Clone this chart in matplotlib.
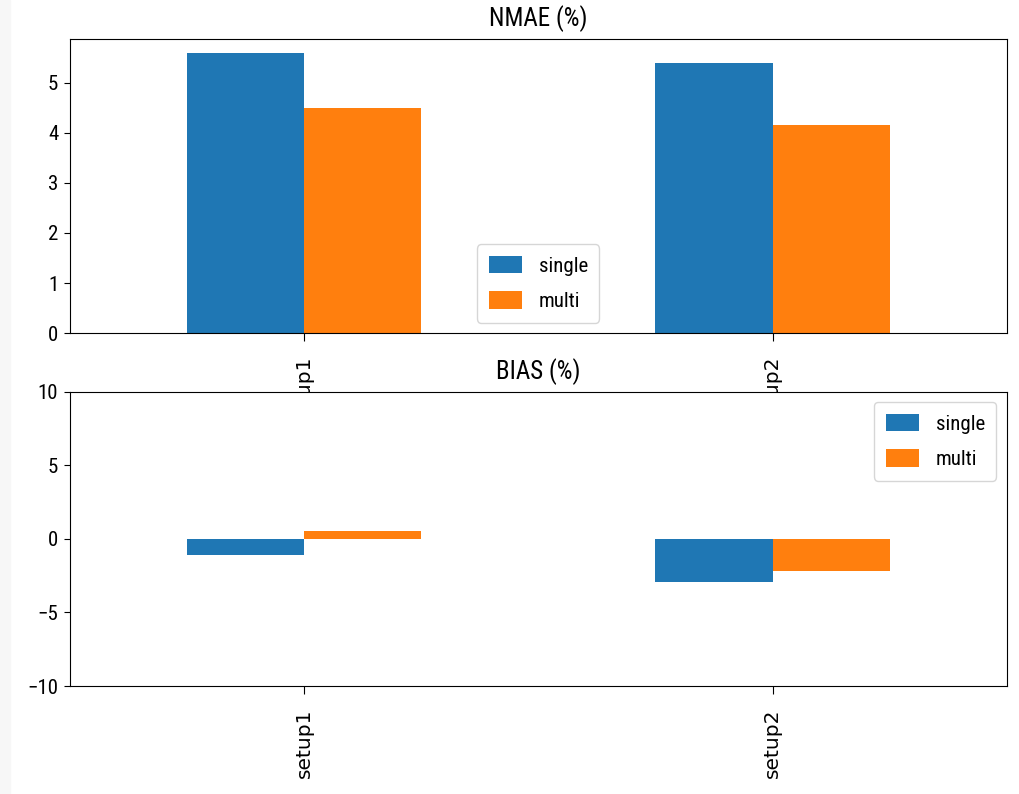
import numpy as np
import matplotlib
matplotlib.use("Agg")
import matplotlib.pyplot as plt
from matplotlib import font_manager
from matplotlib.patches import Rectangle

# data
setups = ["setup1", "setup2"]
series = ["single", "multi"]
nmae_single = [5.60, 5.39]
nmae_multi = [4.49, 4.16]
bias_single = [-1.1, -2.95]
bias_multi = [0.55, -2.15]
colors = ["#1f77b4", "#ff7f0e"]

# the reference is squeezed sideways: use a condensed face if there is one
installed = {f.name for f in font_manager.fontManager.ttflist}
narrow = [n for n in ["DejaVu Sans Condensed", "Liberation Sans Narrow",
                      "Roboto Condensed", "Open Sans Condensed"] if n in installed]
if narrow:
    plt.rcParams["font.family"] = [narrow[0], "DejaVu Sans"]
    tick_fs, title_fs = 15, 18
else:
    plt.rcParams["font.family"] = ["DejaVu Sans"]
    tick_fs, title_fs = 13, 15

fig, axes = plt.subplots(2, 1, figsize=(10.19, 7.94), dpi=100)
fig.subplots_adjust(left=0.0687, right=0.988, top=0.951, bottom=0.136, hspace=0.2)

# light grey strip at the very left of the screenshot
fig.patches.append(Rectangle((0, 0), 0.010, 1, transform=fig.transFigure,
                             color="#f7f7f7", zorder=-10))

x = np.arange(len(setups))
width = 0.25

panels = [
    (axes[0], [nmae_single, nmae_multi], "NMAE (%)", "lower center", None),
    (axes[1], [bias_single, bias_multi], "BIAS (%)", "upper right", (-10, 10)),
]

for ax, vals, title, loc, ylim in panels:
    for i, (name, v) in enumerate(zip(series, vals)):
        ax.bar(x + (i - 0.5) * width, v, width, color=colors[i], label=name)
    ax.set_xlim(-0.5, 1.5)
    if ylim is not None:
        ax.set_ylim(*ylim)
    ax.set_xticks(x)
    ax.set_xticklabels(setups, rotation=90, fontsize=14.5, family="DejaVu Sans")
    ax.tick_params(axis="x", length=6, pad=10)
    ax.tick_params(axis="y", labelsize=tick_fs, length=4.5, pad=4)
    ax.set_title(title, fontsize=title_fs, pad=9)
    ax.legend(loc=loc, fontsize=tick_fs, handlelength=1.6, handleheight=0.9,
              labelspacing=0.75, borderpad=0.55)

fig.savefig("out.png", dpi=100)
